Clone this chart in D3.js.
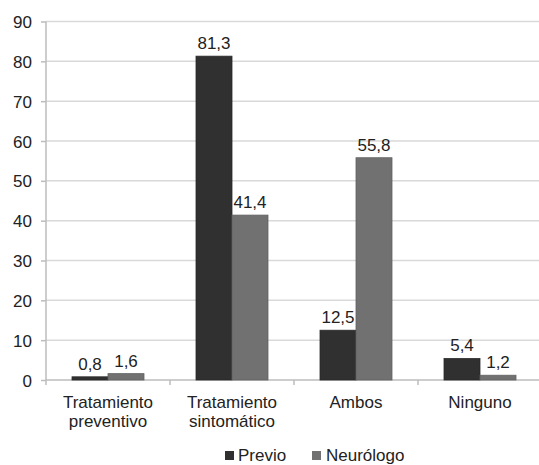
<!DOCTYPE html>
<html><head><meta charset="utf-8">
<script src="https://cdn.jsdelivr.net/npm/d3@7"></script>
<style>body{margin:0;background:#fff}svg{display:block;font-family:"Liberation Sans",Arial,sans-serif}</style>
</head><body>
<svg id="c" width="539" height="465"></svg>
<script>
const categories = [["Tratamiento","preventivo"],["Tratamiento","sintomático"],["Ambos"],["Ninguno"]];
const seriesNames = ["Previo","Neurólogo"];
const previo = [0.8, 81.3, 12.5, 5.4];
const neurologo = [1.6, 41.4, 55.8, 1.2];
const yTicks = [0,10,20,30,40,50,60,70,80,90];
const colors = ["#303030","#717171"];

(function(){
const FS = 17;
const svg = d3.select("#c");
const mLeft = 46, mRight = 542, mTop = 21.5, mBottom = 380;
const x0 = d3.scaleBand().domain(d3.range(categories.length)).range([mLeft, mRight]).padding(0);
const x1 = d3.scaleBand().domain(seriesNames).range([0, x0.bandwidth()]).paddingInner(0)
  .paddingOuter((x0.bandwidth() - 72) / 2 / 36);
const y = d3.scaleLinear().domain([0, 90]).range([mBottom, mTop]);

// gridlines
svg.append("g").selectAll("line").data(yTicks.filter(d=>d>0)).join("line")
  .attr("x1", mLeft).attr("x2", 539).attr("y1", d=>y(d)).attr("y2", d=>y(d))
  .attr("stroke", "#d9d9d9").attr("stroke-width", 1.5);

// y axis
const ya = d3.axisLeft(y).tickValues(yTicks).tickSize(5).tickPadding(9);
const gy = svg.append("g").attr("transform", `translate(${mLeft},0)`).call(ya);
gy.select(".domain").attr("stroke", "#bdbdbd").attr("stroke-width", 1.5).attr("d", `M0,${mTop}V${mBottom}`);
gy.selectAll(".tick line").attr("stroke", "#bdbdbd").attr("stroke-width", 1.5);
gy.selectAll(".tick text").attr("font-size", FS).attr("fill", "#222").attr("dy", "0.36em").style("font-family","Liberation Sans, Arial, sans-serif");

// x axis baseline and ticks
const gx = svg.append("g");
gx.append("line").attr("x1", mLeft).attr("x2", 539).attr("y1", mBottom).attr("y2", mBottom)
  .attr("stroke", "#bdbdbd").attr("stroke-width", 1.5);
gx.selectAll("line.t").data(d3.range(categories.length + 1)).join("line").attr("class","t")
  .attr("x1", d => mLeft + d * x0.step()).attr("x2", d => mLeft + d * x0.step())
  .attr("y1", mBottom).attr("y2", mBottom + 5).attr("stroke", "#bdbdbd").attr("stroke-width", 1.5);

// category labels
const cl = svg.append("g").selectAll("text").data(categories).join("text")
  .attr("x", (d,i) => x0(i) + x0.bandwidth()/2).attr("y", 408)
  .attr("text-anchor", "middle").attr("font-size", FS).attr("fill", "#222");
cl.selectAll("tspan").data(d => d).join("tspan")
  .attr("x", function(){ return this.parentNode.getAttribute("x"); })
  .attr("dy", (d,i) => i === 0 ? 0 : 19).text(d => d);

// bars
const data = categories.map((c,i) => [
  {s: seriesNames[0], v: previo[i]},
  {s: seriesNames[1], v: neurologo[i]}
]);
const groups = svg.append("g").selectAll("g").data(data).join("g")
  .attr("transform", (d,i) => `translate(${x0(i)},0)`);
groups.selectAll("rect").data(d => d).join("rect")
  .attr("x", d => x1(d.s)).attr("width", x1.bandwidth())
  .attr("y", d => y(d.v)).attr("height", d => y(0) - y(d.v))
  .attr("fill", d => colors[seriesNames.indexOf(d.s)])
  .attr("stroke", d => d3.color(colors[seriesNames.indexOf(d.s)]).darker(0.4)).attr("stroke-width", 0.8);
groups.selectAll("text").data(d => d).join("text")
  .attr("x", d => x1(d.s) + x1.bandwidth()/2).attr("y", d => y(d.v) - 7)
  .attr("text-anchor", "middle").attr("font-size", FS).attr("fill", "#222")
  .text(d => d3.format(".1f")(d.v).replace(".", ","));

// legend
const legX = [225, 312];
const lg = svg.append("g").selectAll("g").data(seriesNames).join("g")
  .attr("transform", (d,i) => `translate(${legX[i]},0)`);
lg.append("rect").attr("x", 0).attr("y", 451).attr("width", 9).attr("height", 9)
  .attr("fill", (d,i) => colors[i]);
lg.append("text").attr("x", (d,i) => i === 0 ? 13 : 14).attr("y", 461).attr("font-size", FS).attr("fill", "#222").text(d => d);
})();
</script>
</body></html>
